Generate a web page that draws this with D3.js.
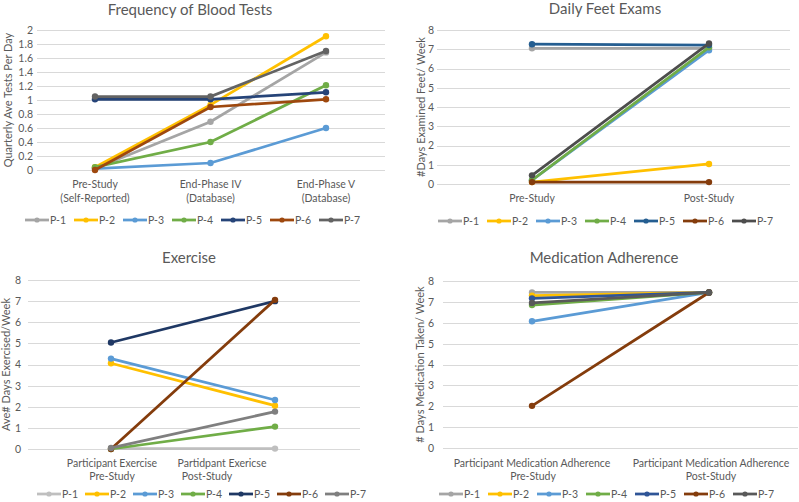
<!DOCTYPE html>
<html>
<head>
<meta charset="utf-8">
<script src="https://cdn.jsdelivr.net/npm/d3@7"></script>
<style>
  html, body { margin: 0; padding: 0; background: #fff; }
  svg { display: block; font-family: Lato, "Open Sans", sans-serif; }
</style>
</head>
<body>
<svg id="chart" width="799" height="502"></svg>
<script>
// ---------- DATA ----------
const participants = ["P-1", "P-2", "P-3", "P-4", "P-5", "P-6", "P-7"];

const bloodTitle = "Frequency of Blood Tests";
const bloodYLabel = "Quarterly Ave Tests Per Day";
const bloodCategories = [["Pre-Study", "(Self-Reported)"], ["End-Phase IV", "(Database)"], ["End-Phase V", "(Database)"]];
const bloodTicks = [0, 0.2, 0.4, 0.6, 0.8, 1, 1.2, 1.4, 1.6, 1.8, 2];
const bloodValues = [
  [0.02, 0.69, 1.68],
  [0.04, 0.93, 1.91],
  [0.02, 0.10, 0.60],
  [0.04, 0.40, 1.21],
  [1.01, 1.01, 1.11],
  [0.00, 0.90, 1.01],
  [1.05, 1.05, 1.70]
];

const feetTitle = "Daily Feet Exams";
const feetYLabel = "#Days Examined Feet/ Week";
const feetCategories = [["Pre-Study"], ["Post-Study"]];
const feetTicks = [0, 1, 2, 3, 4, 5, 6, 7, 8];
const feetValues = [
  [7.05, 7.05],
  [0.10, 1.04],
  [0.20, 6.95],
  [0.20, 7.10],
  [7.26, 7.22],
  [0.10, 0.10],
  [0.45, 7.30]
];

const exerciseTitle = "Exercise";
const exerciseYLabel = "Ave# Days Exercised/Week";
const exerciseCategories = [["Participant Exercise", "Pre-Study"], ["Partidpant Exericse", "Post-Study"]];
const exerciseTicks = [0, 1, 2, 3, 4, 5, 6, 7, 8];
const exerciseValues = [
  [0.02, 0.02],
  [4.06, 2.05],
  [4.28, 2.32],
  [0.00, 1.06],
  [5.04, 7.00],
  [0.00, 7.06],
  [0.05, 1.77]
];

const medTitle = "Medication Adherence";
const medYLabel = "# Days Medication Taken/ Week";
const medCategories = [["Participant Medication Adherence", "Pre-Study"], ["Participant Medication Adherence", "Post-Study"]];
const medTicks = [0, 1, 2, 3, 4, 5, 6, 7, 8];
const medValues = [
  [7.45, 7.45],
  [7.30, 7.45],
  [6.07, 7.45],
  [6.85, 7.45],
  [7.17, 7.45],
  [2.02, 7.45],
  [6.95, 7.45]
];

// ---------- STYLE / LAYOUT ----------
const textColor = "#595959";
const gridColor = "#D9D9D9";
const colorsStd = ["#A5A5A5", "#FFC000", "#5B9BD5", "#70AD47", "#264478", "#9E480E", "#636363"];
const colorsFeet = ["#A5A5A5", "#FFC000", "#5B9BD5", "#70AD47", "#255E91", "#843C0C", "#4D4D4D"];
const colorsEx = ["#BFBFBF", "#FFC000", "#5B9BD5", "#70AD47", "#1F3864", "#843C0C", "#7F7F7F"];
const colorsMed = ["#A5A5A5", "#FFC000", "#5B9BD5", "#70AD47", "#2F5597", "#843C0C", "#595959"];

const panels = [
  { title: bloodTitle, titleX: 190, titleY: 15, yLabel: bloodYLabel, yLabelX: 12, cats: bloodCategories, ticks: bloodTicks,
    values: bloodValues, colors: colorsStd, gridX: [37, 385], y: [170, 30], catX: [95, 326],
    catLabelY: [188, 202], legend: { x: 25, y: 220, step: 49 }, yMax: 2, tickRight: 33, catOffsets: null },
  { title: feetTitle, titleX: 605, titleY: 14, yLabel: feetYLabel, yLabelX: 425, cats: feetCategories, ticks: feetTicks,
    values: feetValues, colors: colorsFeet, gridX: [437, 790], y: [184, 30], catX: [532, 709],
    catLabelY: [202], legend: { x: 438, y: 221, step: 49 }, yMax: 8, tickRight: 434, catOffsets: null },
  { title: exerciseTitle, titleX: 189, titleY: 263, yLabel: exerciseYLabel, yLabelX: 10, cats: exerciseCategories, ticks: exerciseTicks,
    values: exerciseValues, colors: colorsEx, gridX: [28, 360], y: [449, 280], catX: [111, 275],
    catLabelY: [467, 480], legend: { x: 37, y: 494, step: 48 }, yMax: 8, tickRight: 21,
    catOffsets: [[1, 1], [-53, -68]] },
  { title: medTitle, titleX: 604, titleY: 263, yLabel: medYLabel, yLabelX: 424, cats: medCategories, ticks: medTicks,
    values: medValues, colors: colorsMed, gridX: [443, 798], y: [448, 281], catX: [532, 709],
    catLabelY: [467, 480], legend: { x: 439, y: 494, step: 49 }, yMax: 8, tickRight: 434, catOffsets: [[0, 1], [2, 2]] }
];

const svg = d3.select("#chart");

panels.forEach((p) => {
  const g = svg.append("g");
  const x = d3.scalePoint().domain(d3.range(p.cats.length)).range(p.catX);
  const y = d3.scaleLinear().domain([0, p.yMax]).range(p.y);

  // gridlines
  g.append("g").selectAll("line").data(p.ticks).join("line")
    .attr("x1", p.gridX[0]).attr("x2", p.gridX[1])
    .attr("y1", d => Math.round(y(d)) + 0.5).attr("y2", d => Math.round(y(d)) + 0.5)
    .attr("stroke", gridColor).attr("stroke-width", 1);

  // y axis tick labels
  const yAxis = d3.axisLeft(y).tickValues(p.ticks).tickSize(0).tickPadding(0)
    .tickFormat(d => String(d));
  const ya = g.append("g").attr("transform", `translate(${p.tickRight},0)`).call(yAxis);
  ya.select(".domain").remove();
  ya.selectAll("text").attr("fill", textColor).style("font-size", "10.5px")
    .style("font-family", "Lato, 'Open Sans', sans-serif");

  // category labels
  p.cats.forEach((lines, i) => {
    lines.forEach((t, j) => {
      const off = p.catOffsets ? p.catOffsets[i][j] : 0;
      g.append("text").attr("x", x(i) + off).attr("y", p.catLabelY[j])
        .attr("text-anchor", "middle").attr("fill", textColor)
        .style("font-size", "10.5px").text(t);
    });
  });

  // title
  g.append("text").attr("x", p.titleX).attr("y", p.titleY).attr("text-anchor", "middle")
    .attr("fill", textColor).style("font-size", "15px").text(p.title);

  // y label
  const yMid = (p.y[0] + p.y[1]) / 2;
  g.append("text").attr("transform", `translate(${p.yLabelX},${yMid}) rotate(-90)`)
    .attr("text-anchor", "middle").attr("fill", textColor).style("font-size", "11px")
    .text(p.yLabel);

  // series
  const line = d3.line().x((d, i) => x(i)).y(d => y(d));
  p.values.forEach((vals, s) => {
    const sg = g.append("g");
    sg.append("path").datum(vals).attr("d", line).attr("fill", "none")
      .attr("stroke", p.colors[s]).attr("stroke-width", 2.75).attr("stroke-linecap", "round");
    sg.selectAll("circle").data(vals).join("circle")
      .attr("cx", (d, i) => x(i)).attr("cy", d => y(d)).attr("r", 3.2)
      .attr("fill", p.colors[s]);
  });

  // legend
  participants.forEach((name, s) => {
    const lx = p.legend.x + s * p.legend.step;
    const ly = p.legend.y;
    g.append("line").attr("x1", lx).attr("x2", lx + 24).attr("y1", ly).attr("y2", ly)
      .attr("stroke", p.colors[s]).attr("stroke-width", 2.75);
    g.append("circle").attr("cx", lx + 12).attr("cy", ly).attr("r", 2.6).attr("fill", p.colors[s]);
    g.append("text").attr("x", lx + 25).attr("y", ly + 3.8).attr("fill", textColor)
      .style("font-size", "10.5px").text(name);
  });
});
</script>
</body>
</html>
